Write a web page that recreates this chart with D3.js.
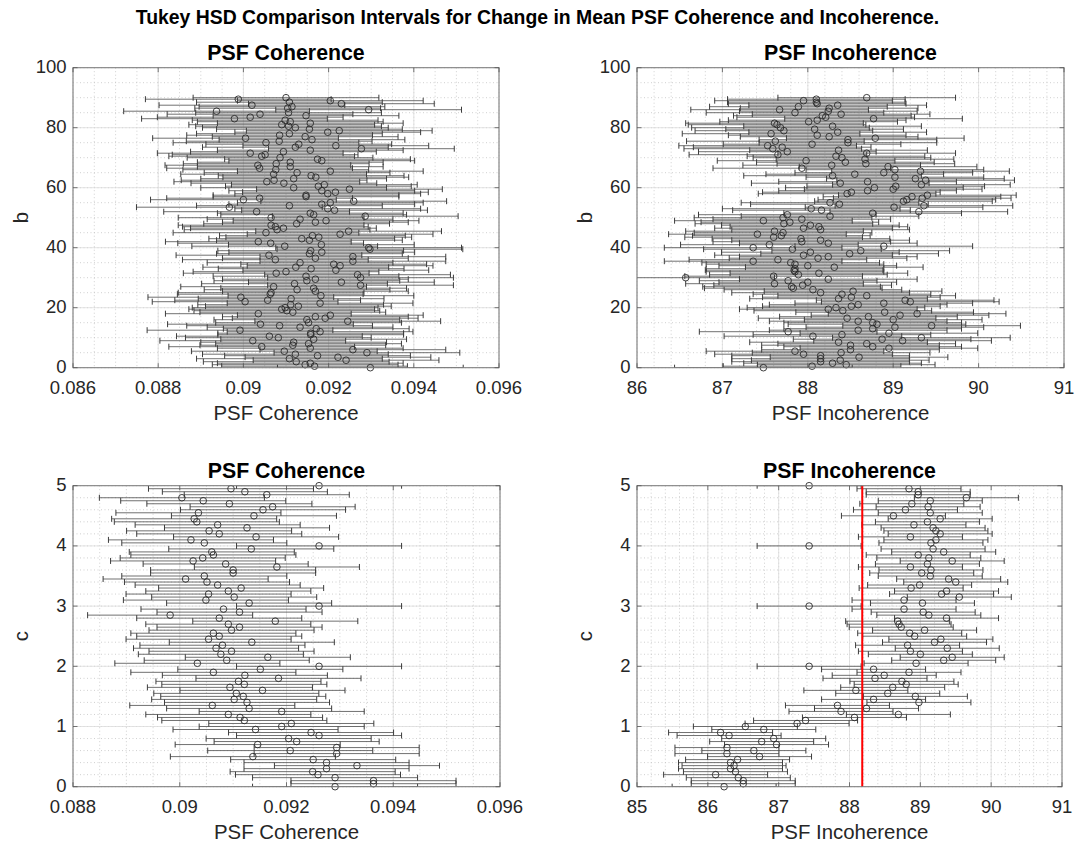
<!DOCTYPE html>
<html>
<head>
<meta charset="utf-8">
<script src="https://cdn.jsdelivr.net/npm/d3@7"></script>
<style>
  body { margin: 0; background: #fff; }
  svg { display: block; }
  text { font-family: "Liberation Sans", Arial, Helvetica, sans-serif; }
</style>
</head>
<body>
<svg id="fig" width="1075" height="842"></svg>
<script>
// ---- Group levels ----
// b levels run from 90 down to 0 in steps of 0.5 (same order as the b mean arrays)
const bLevels = d3.range(180, -1, -1).map(i => i / 2);
// c levels run from 0 up to 5 in steps of 0.05 (same order as the c mean arrays)
const cLevels = d3.range(0, 101).map(i => i * 0.05);

// ---- Group means: PSF Coherence by b (b = 90 ... 0) ----
const coherenceByB = [
  0.09100, 0.08988, 0.09204, 0.09108, 0.09230, 0.09020, 0.09114, 0.09104, 0.09294, 0.08937,
  0.09106, 0.09039, 0.09147, 0.09016, 0.08979, 0.09098, 0.09110, 0.09157, 0.09090, 0.09106,
  0.09122, 0.09155, 0.09225, 0.09198, 0.09108, 0.09085, 0.09145, 0.09005, 0.09161, 0.09084,
  0.09053, 0.09130, 0.09217, 0.09122, 0.09277, 0.09157, 0.09094, 0.09016, 0.09051, 0.09043,
  0.09086, 0.09174, 0.09184, 0.09110, 0.09077, 0.09034, 0.09110, 0.09038, 0.09076, 0.09204,
  0.09126, 0.09071, 0.09159, 0.09170, 0.09118, 0.09072, 0.09055, 0.09095, 0.09190, 0.09176,
  0.09118, 0.09249, 0.09184, 0.09216, 0.09198, 0.09147, 0.09147, 0.09038, 0.09000, 0.09259,
  0.09204, 0.09184, 0.09108, 0.08967, 0.09198, 0.09214, 0.09031, 0.09157, 0.09165, 0.09286,
  0.09065, 0.09133,
  0.09194, 0.09169, 0.09125, 0.09065, 0.09075, 0.09094, 0.09079, 0.09247, 0.09053, 0.09227,
  0.09162, 0.09177, 0.09137, 0.09155, 0.09035, 0.09064, 0.09183, 0.09097, 0.09294, 0.09297,
  0.09158, 0.09184, 0.09155, 0.09060, 0.09257, 0.09169, 0.09075, 0.09257, 0.09133, 0.09212,
  0.09227, 0.09123, 0.09159, 0.09217, 0.09100, 0.09077, 0.09268, 0.09147, 0.09275, 0.09169,
  0.09149, 0.09230, 0.09120, 0.09275, 0.09071, 0.09165, 0.09126, 0.09169, 0.09065, 0.09063,
  0.09182, 0.08994, 0.09112, 0.09057, 0.09004, 0.09180, 0.09111, 0.09129, 0.09098, 0.09090,
  0.09102, 0.09116, 0.09035, 0.09204, 0.09169, 0.09192, 0.09149, 0.09245, 0.09153, 0.09040,
  0.09085, 0.09133, 0.09171, 0.08992, 0.09180, 0.09158, 0.09158, 0.09061, 0.09082, 0.09165,
  0.09022, 0.09118, 0.09153, 0.09116, 0.09043, 0.09157, 0.09257, 0.09096, 0.09290, 0.09122,
  0.09174, 0.09222, 0.09108, 0.09241, 0.09124, 0.09157, 0.09145, 0.09167, 0.09298
];

// ---- Group means: PSF Incoherence by b (b = 90 ... 0) ----
const incoherenceByB = [
  88.69, 88.10, 87.95, 88.10, 88.11, 88.35, 87.89, 88.25, 87.67, 88.24,
  87.85, 88.39, 88.17, 88.21, 88.77, 88.11, 88.01, 87.61, 87.64, 88.29,
  87.68, 88.08, 87.72, 88.35, 87.57, 88.11, 88.25, 88.79, 88.47, 87.62,
  88.47, 88.05, 87.53, 87.70, 87.59, 88.36, 87.76, 88.69, 87.65, 88.33,
  88.40, 88.67, 87.98, 88.44, 88.68, 88.28, 88.94, 87.93, 89.02, 89.32,
  88.89, 88.55, 88.29, 89.02, 89.26, 89.38, 88.70, 88.38, 89.33, 89.03,
  88.78, 89.00, 88.70, 88.51, 88.46, 89.40, 89.22, 89.34, 89.16, 89.12,
  88.26, 88.37, 89.36, 89.01, 88.04, 88.16, 89.30, 88.76, 87.76, 88.26,
  87.71,
  87.93, 87.48, 87.79, 87.72, 88.03, 88.13, 87.95, 88.15, 87.61, 87.71,
  87.41, 87.69, 87.60, 87.92, 88.15, 87.93, 88.24, 87.55, 88.89, 87.36,
  87.82, 88.62, 88.03, 88.49, 87.95, 88.24, 88.12, 87.65, 87.36, 87.80,
  87.85, 88.00, 88.31, 87.85, 87.84, 87.85, 88.13, 87.89, 87.60, 86.57,
  88.24, 87.77, 88.00, 87.61, 87.94, 87.81, 87.83, 88.06, 88.53, 88.15,
  88.40, 88.69, 88.51, 88.36, 89.14, 89.20, 88.89, 88.59, 88.51, 88.33,
  88.24, 88.41, 88.90, 89.28, 89.08, 88.71, 88.46, 89.00, 88.59, 88.76,
  88.81, 89.45, 89.02, 88.76, 88.59, 87.77, 88.95, 88.40, 88.06, 89.33,
  88.87, 89.11, 88.36, 88.69, 88.50, 88.76, 88.95, 88.50, 87.85, 88.39,
  87.95, 88.15, 88.60, 88.15, 88.38, 88.15, 88.29, 88.45, 88.05, 87.48
];

// ---- Group means: PSF Coherence by c (c = 0 ... 5) ----
const coherenceByC = [
  0.09291, 0.09363, 0.09363, 0.09291, 0.09259, 0.09249, 0.09275, 0.09332, 0.09275, 0.09250,
  0.09137, 0.09294, 0.09207, 0.09294, 0.09146, 0.09219, 0.09204, 0.09261, 0.09246, 0.09142,
  0.09191, 0.09209, 0.09121, 0.09113, 0.09091, 0.09191, 0.09130, 0.09061, 0.09126, 0.09102,
  0.09119, 0.09106, 0.09155, 0.09094, 0.09121, 0.09110, 0.09185, 0.09122, 0.09063, 0.09151,
  0.09261, 0.09033, 0.09088, 0.09165, 0.09077, 0.09097, 0.09068, 0.09080, 0.09135, 0.09054,
  0.09074, 0.09063, 0.09097, 0.09112, 0.09091, 0.09179, 0.09074, 0.08982, 0.09112, 0.09082,
  0.09261, 0.09130, 0.09049, 0.09102, 0.09054, 0.09091, 0.09115, 0.09071, 0.09051, 0.09011,
  0.09046, 0.09100, 0.09100, 0.09182, 0.09086, 0.09025, 0.09043, 0.09063, 0.09060, 0.09134,
  0.09261, 0.09046, 0.09021, 0.09143, 0.09074, 0.09055, 0.09126, 0.09071, 0.09032, 0.09027,
  0.09139, 0.09035, 0.09156, 0.09174, 0.09093, 0.09044, 0.09004, 0.09163, 0.09122, 0.09096,
  0.09261
];

// ---- Group means: PSF Incoherence by c (c = 0 ... 5) ----
const incoherenceByC = [
  86.23, 86.50, 86.50, 86.43, 86.11, 86.39, 86.32, 86.37, 86.32, 86.42,
  86.73, 86.27, 86.65, 86.27, 86.97, 86.76, 86.93, 86.30, 86.18, 86.79,
  86.53, 87.26, 87.38, 88.07, 88.69, 87.88, 88.24, 87.83, 88.98, 88.34,
  88.93, 88.54, 88.09, 88.61, 88.80, 88.74, 88.36, 88.49, 88.84, 88.34,
  87.43, 88.94, 89.33, 89.45, 89.00, 88.86, 89.38, 88.82, 89.20, 89.29,
  88.92, 88.85, 89.06, 88.73, 88.70, 88.68, 89.37, 89.12, 89.04, 88.77,
  87.43, 89.03, 88.77, 89.55, 89.30, 89.37, 88.87, 88.99, 89.50, 89.40,
  89.14, 89.02, 89.15, 88.86, 89.10, 89.45, 89.12, 88.97, 89.33, 89.18,
  87.43, 89.15, 89.22, 88.86, 89.28, 89.22, 89.18, 88.91, 89.10, 89.28,
  88.62, 89.14, 88.79, 89.11, 88.88, 89.14, 89.65, 88.97, 88.97, 88.84,
  87.43
];

// Comparison interval half-widths (one per panel)
const halfWidthCoherenceB = 0.00218;
const halfWidthIncoherenceB = 1.04;
const halfWidthCoherenceC = 0.001546;
const halfWidthIncoherenceC = 0.734;

// Reference line on the c / PSF Incoherence panel
const incoherenceCRefLine = 88.18;

// ---- Axis ticks ----
const coherenceTicksB = [0.086, 0.088, 0.090, 0.092, 0.094, 0.096];
const coherenceTickLabelsB = ["0.086", "0.088", "0.09", "0.092", "0.094", "0.096"];
const coherenceTicksC = [0.088, 0.090, 0.092, 0.094, 0.096];
const coherenceTickLabelsC = ["0.088", "0.09", "0.092", "0.094", "0.096"];
const incoherenceTicksB = [86, 87, 88, 89, 90, 91];
const incoherenceTicksC = [85, 86, 87, 88, 89, 90, 91];
const bTicks = [0, 20, 40, 60, 80, 100];
const cTicks = [0, 1, 2, 3, 4, 5];

const figureTitle = "Tukey HSD Comparison Intervals for Change in Mean PSF Coherence and Incoherence.";

// ---- Drawing ----
const svg = d3.select("#fig");
const INK = "#262626";
const TICK_FONT = 18.5;
const LABEL_FONT = 20.4;

svg.append("text")
  .attr("x", 537.5).attr("y", 24)
  .attr("text-anchor", "middle")
  .attr("font-weight", "bold")
  .attr("font-size", 19.4)
  .attr("fill", "#000")
  .text(figureTitle);

const panels = [
  { id: "tl", box: { l: 73, r: 499, t: 67.7, b: 367.7 },
    xDomain: [0.086, 0.096], xTicks: coherenceTicksB, xTickLabels: coherenceTickLabelsB, xMinor: 0.0005,
    yDomain: [0, 100], yTicks: bTicks, yMinor: 5,
    levels: bLevels, means: coherenceByB, half: halfWidthCoherenceB,
    title: "PSF Coherence", xLabel: "PSF Coherence", yLabel: "b" },
  { id: "tr", box: { l: 637, r: 1064, t: 67.7, b: 367.7 },
    xDomain: [86, 91], xTicks: incoherenceTicksB, xTickLabels: incoherenceTicksB.map(String), xMinor: 0.2,
    yDomain: [0, 100], yTicks: bTicks, yMinor: 5,
    levels: bLevels, means: incoherenceByB, half: halfWidthIncoherenceB,
    title: "PSF Incoherence", xLabel: "PSF Incoherence", yLabel: "b" },
  { id: "bl", box: { l: 73, r: 500, t: 485.7, b: 786.7 },
    xDomain: [0.088, 0.096], xTicks: coherenceTicksC, xTickLabels: coherenceTickLabelsC, xMinor: 0.0005,
    yDomain: [0, 5], yTicks: cTicks, yMinor: 0.2,
    levels: cLevels, means: coherenceByC, half: halfWidthCoherenceC,
    title: "PSF Coherence", xLabel: "PSF Coherence", yLabel: "c" },
  { id: "br", box: { l: 637, r: 1062, t: 485.7, b: 786.7 },
    xDomain: [85, 91], xTicks: incoherenceTicksC, xTickLabels: incoherenceTicksC.map(String), xMinor: 0.2,
    yDomain: [0, 5], yTicks: cTicks, yMinor: 0.2,
    levels: cLevels, means: incoherenceByC, half: halfWidthIncoherenceC,
    refLine: incoherenceCRefLine,
    title: "PSF Incoherence", xLabel: "PSF Incoherence", yLabel: "c" }
];

function minorValues(domain, step) {
  const n = Math.round((domain[1] - domain[0]) / step);
  return d3.range(0, n + 1).map(i => domain[0] + i * step);
}

panels.forEach(p => {
  const { l, r, t, b } = p.box;
  const x = d3.scaleLinear().domain(p.xDomain).range([l, r]);
  const y = d3.scaleLinear().domain(p.yDomain).range([b, t]);
  const g = svg.append("g");

  const clipId = "clip-" + p.id;
  svg.append("clipPath").attr("id", clipId)
    .append("rect").attr("x", l).attr("y", t).attr("width", r - l).attr("height", b - t);

  // minor grid (dotted)
  const grid = g.append("g");
  grid.selectAll(".mx").data(minorValues(p.xDomain, p.xMinor)).join("line")
    .attr("x1", d => x(d)).attr("x2", d => x(d)).attr("y1", t).attr("y2", b)
    .attr("stroke", "#c4c4c4").attr("stroke-width", 0.8).attr("stroke-dasharray", "1,2.5");
  grid.selectAll(".my").data(minorValues(p.yDomain, p.yMinor)).join("line")
    .attr("y1", d => y(d)).attr("y2", d => y(d)).attr("x1", l).attr("x2", r)
    .attr("stroke", "#c4c4c4").attr("stroke-width", 0.8).attr("stroke-dasharray", "1,2.5");
  // major grid
  grid.selectAll(".gx").data(p.xTicks).join("line")
    .attr("x1", d => x(d)).attr("x2", d => x(d)).attr("y1", t).attr("y2", b)
    .attr("stroke", "#dcdcdc").attr("stroke-width", 0.8);
  grid.selectAll(".gy").data(p.yTicks).join("line")
    .attr("y1", d => y(d)).attr("y2", d => y(d)).attr("x1", l).attr("x2", r)
    .attr("stroke", "#dcdcdc").attr("stroke-width", 0.8);

  // comparison intervals
  const rows = p.levels.map((lv, i) => ({ lv, m: p.means[i] }));
  const bars = g.append("g").attr("clip-path", `url(#${clipId})`);
  bars.selectAll(".iv").data(rows).join("line")
    .attr("x1", d => x(d.m - p.half)).attr("x2", d => x(d.m + p.half))
    .attr("y1", d => y(d.lv)).attr("y2", d => y(d.lv))
    .attr("stroke", "#575757").attr("stroke-width", 0.85);
  const capH = 3;
  bars.selectAll(".capL").data(rows).join("line")
    .attr("x1", d => x(d.m - p.half)).attr("x2", d => x(d.m - p.half))
    .attr("y1", d => y(d.lv) - capH).attr("y2", d => y(d.lv) + capH)
    .attr("stroke", "#3c3c3c").attr("stroke-width", 1.0);
  bars.selectAll(".capR").data(rows).join("line")
    .attr("x1", d => x(d.m + p.half)).attr("x2", d => x(d.m + p.half))
    .attr("y1", d => y(d.lv) - capH).attr("y2", d => y(d.lv) + capH)
    .attr("stroke", "#3c3c3c").attr("stroke-width", 1.0);

  // group means
  g.append("g").selectAll("circle").data(rows).join("circle")
    .attr("cx", d => x(d.m)).attr("cy", d => y(d.lv)).attr("r", 3.3)
    .attr("fill", "none").attr("stroke", "#2a2a2a").attr("stroke-width", 0.9);

  if (p.refLine !== undefined) {
    g.append("line")
      .attr("x1", x(p.refLine)).attr("x2", x(p.refLine)).attr("y1", t).attr("y2", b)
      .attr("stroke", "#ff0000").attr("stroke-width", 2);
  }

  // axes box and inward ticks
  const ax = g.append("g");
  ax.append("rect").attr("x", l).attr("y", t).attr("width", r - l).attr("height", b - t)
    .attr("fill", "none").attr("stroke", "#7a7a7a").attr("stroke-width", 1);
  const tl = 4.5;
  p.xTicks.forEach(v => {
    ax.append("line").attr("x1", x(v)).attr("x2", x(v)).attr("y1", b).attr("y2", b - tl)
      .attr("stroke", "#555").attr("stroke-width", 0.8);
    ax.append("line").attr("x1", x(v)).attr("x2", x(v)).attr("y1", t).attr("y2", t + tl)
      .attr("stroke", "#555").attr("stroke-width", 0.8);
  });
  p.yTicks.forEach(v => {
    ax.append("line").attr("x1", l).attr("x2", l + tl).attr("y1", y(v)).attr("y2", y(v))
      .attr("stroke", "#555").attr("stroke-width", 0.8);
    ax.append("line").attr("x1", r).attr("x2", r - tl).attr("y1", y(v)).attr("y2", y(v))
      .attr("stroke", "#555").attr("stroke-width", 0.8);
  });

  // tick labels
  ax.selectAll(".xtl").data(p.xTicks).join("text")
    .attr("x", d => x(d)).attr("y", b + 26.5)
    .attr("text-anchor", "middle").attr("font-size", TICK_FONT).attr("fill", INK)
    .text((d, i) => p.xTickLabels[i]);
  ax.selectAll(".ytl").data(p.yTicks).join("text")
    .attr("x", l - 6.5).attr("y", d => y(d) + TICK_FONT * 0.3)
    .attr("text-anchor", "end").attr("font-size", TICK_FONT).attr("fill", INK)
    .text(d => String(d));

  // axis labels and title
  ax.append("text").attr("x", (l + r) / 2).attr("y", b + 52)
    .attr("text-anchor", "middle").attr("font-size", LABEL_FONT).attr("fill", INK)
    .text(p.xLabel);
  ax.append("text")
    .attr("transform", `translate(${l - 45},${(t + b) / 2}) rotate(-90)`)
    .attr("text-anchor", "middle").attr("font-size", LABEL_FONT).attr("fill", INK)
    .text(p.yLabel);
  ax.append("text").attr("x", (l + r) / 2).attr("y", t - 7.5)
    .attr("text-anchor", "middle").attr("font-size", 21.3).attr("font-weight", "bold").attr("fill", "#000")
    .text(p.title);
});
</script>
</body>
</html>
